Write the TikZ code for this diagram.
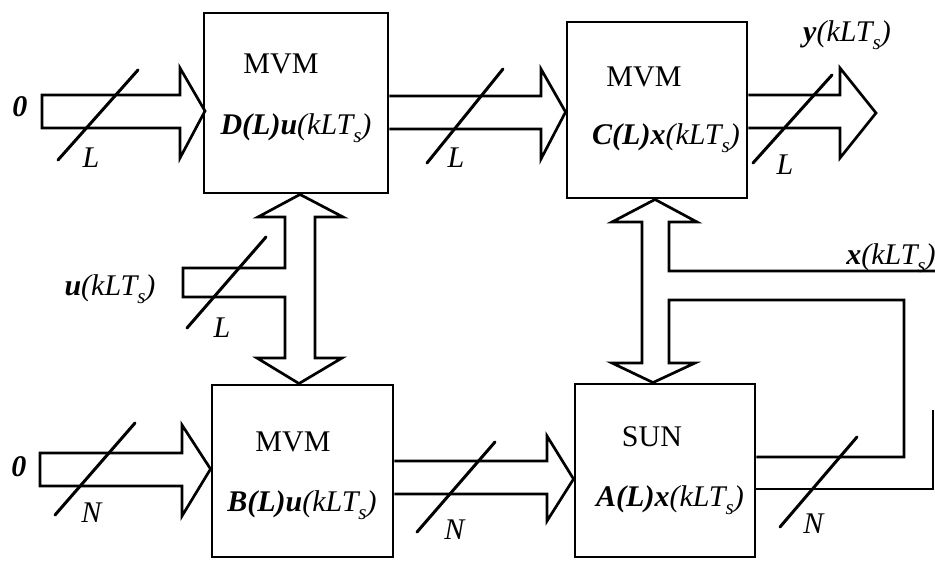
\documentclass[tikz,border=0pt]{standalone}
\usepackage{fontspec}
\setmainfont{Liberation Serif}
\newcommand{\kts}{\textit{(kLT\raisebox{-0.28em}{\fontsize{21}{21}\selectfont s})}}
\newcommand{\bi}[1]{\textbf{\textit{#1}}}
\begin{document}
\begin{tikzpicture}[x=1pt,y=-1pt,
  box/.style={draw, line width=2.9pt, inner sep=0pt},
  wide/.style={draw, line width=2.7pt, line join=miter},
  slash/.style={draw, line width=3pt, line cap=round},
  lbl/.style={inner sep=0pt, font=\fontsize{30}{33}\selectfont}]
\useasboundingbox (0,0) rectangle (935,560);

% blocks
\node[box, minimum width=184pt, minimum height=180pt] (D) at (296,103) {};
\node[box, minimum width=180pt, minimum height=176pt] (C) at (657,110) {};
\node[box, minimum width=181pt, minimum height=172pt] (B) at (302.5,471) {};
\node[box, minimum width=180pt, minimum height=173pt] (A) at (665,470.5) {};

% block texts
\node[lbl] (Dt1) at (281,64) {MVM};
\node[lbl] (Dt2) at (296,128) {\bi{D(L)u}\kts};
\node[lbl] (Ct1) at (644,77) {MVM};
\node[lbl] (Ct2) at (666,138) {\bi{C(L)x}\kts};
\node[lbl] (Bt1) at (293,442) {MVM};
\node[lbl] (Bt2) at (302,505) {\bi{B(L)u}\kts};
\node[lbl] (At1) at (652,437) {SUN};
\node[lbl] (At2) at (670,500) {\bi{A(L)x}\kts};

% wide arrows
\draw[wide] (42,95) -- (180,95) -- (180,68) -- (205,111) -- (180,158) -- (180,128) -- (42,128) -- cycle;
\draw[wide] (D.east |- 0,96) -- (541,96) -- (541,69) -- (C.west |- 0,112) -- (541,159) -- (541,129) -- (D.east |- 0,129);
\draw[wide] (C.east |- 0,95) -- (840,95) -- (840,68) -- (876,113) -- (840,158) -- (840,128) -- (C.east |- 0,128);

\draw[wide] (40,453) -- (182,453) -- (182,425) -- (B.west |- 0,469) -- (182,516) -- (182,486) -- (40,486) -- cycle;
\draw[wide] (B.east |- 0,461) -- (547,461) -- (547,436) -- (A.west |- 0,479) -- (547,521) -- (547,494) -- (B.east |- 0,494);

\draw[wide] (D.south -| 300,0) -- (343,217) -- (315,217) -- (315,358) -- (342,358) -- (B.north -| 299,0) -- (257,358) -- (285,358) -- (285,297) -- (183,297) -- (183,268) -- (285,268) -- (285,217) -- (258,217) -- cycle;

\coordinate (xout) at (935,271);
\draw[wide] (xout) -- (669,271) -- (669,222) -- (697,222) -- (C.south -| 655,0) -- (612,222) -- (642,222) -- (642,363) -- (612,363) -- (A.north -| 653,0) -- (695,363) -- (669,363) -- (669,300) -- (904,300) -- (904,457) -- (A.east |- 0,457);
\coordinate (fbend) at (933,410);
\draw[wide] (A.east |- 0,489) -- (933,489) -- (fbend);

% bus width slashes
\draw[slash] (58,160) -- (138,70);
\draw[slash] (427,163) -- (503,69);
\draw[slash] (753,163) -- (832,75);
\draw[slash] (187,328) -- (266,237);
\draw[slash] (55,515) -- (135,423);
\draw[slash] (417,532) -- (495,442);
\draw[slash] (780,527) -- (857,437);

% outer labels
\node[lbl] (z1) at (20,107) {\bi{0}};
\node[lbl] (z2) at (19,467) {\bi{0}};
\node[lbl] (L1) at (91,158) {\textit{L}};
\node[lbl] (L2) at (456,158) {\textit{L}};
\node[lbl] (L3) at (785,165) {\textit{L}};
\node[lbl] (L4) at (222,328) {\textit{L}};
\node[lbl] (N1) at (92,513) {\textit{N}};
\node[lbl] (N2) at (455,530) {\textit{N}};
\node[lbl] (N3) at (814,524) {\textit{N}};
\node[lbl] (u) at (110,289) {\bi{u}\kts};
\node[lbl] (y) at (847,35) {\bi{y}\kts};
\node[lbl] (x) at (891,258) {\bi{x}\kts};
\end{tikzpicture}
\end{document}
